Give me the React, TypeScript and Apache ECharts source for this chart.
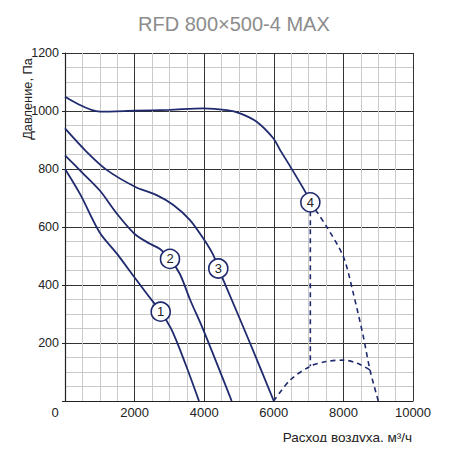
import React, { useEffect, useRef } from "react";
import * as echarts from "echarts";

const NAVY = "#1f2a6e";

const title = "RFD 800×500-4 MAX";
const xName = "Расход воздуха, м³/ч";
const yName = "Давление, Па";

const curve1: [number, number][] = [
  [0, 800], [431, 714], [1006, 579], [1485, 509], [2011, 424], [2400, 362], [2750, 308],
  [3066, 245], [3448, 132], [3851, 0],
];
const curve2: [number, number][] = [
  [0, 847], [500, 787], [1006, 725], [1485, 647], [2011, 575], [2443, 542], [2730, 524],
  [3017, 490], [3305, 437], [3592, 350], [3975, 245], [4790, 0],
];
const curve3: [number, number][] = [
  [0, 940], [600, 862], [1197, 797], [2011, 739], [2634, 710], [3113, 676], [3592, 624],
  [4004, 555], [4262, 503], [4405, 457], [4550, 417], [5316, 200], [6000, 0],
];
const curve4: [number, number][] = [
  [0, 1049], [1006, 998], [2011, 1001], [3000, 1004], [3975, 1009], [4646, 1003],
  [5029, 992], [5508, 963], [5986, 906], [6178, 866], [6466, 810], [6925, 717], [7050, 685],
];
const dashRight: [number, number][] = [
  [7050, 685], [7519, 601], [8000, 497], [8285, 371], [8573, 222], [8764, 107], [9003, 0],
];
const dashVertical: [number, number][] = [
  [7050, 685], [7050, 120],
];
const dashBottom: [number, number][] = [
  [6000, 0], [6466, 72], [7050, 120], [7500, 136], [8000, 141], [8400, 130], [8764, 107],
];
const markers: [number, number, string][] = [
  [2750, 308, "1"], [3017, 490, "2"], [4405, 457, "3"], [7050, 685, "4"],
];

export default function App() {
  const ref = useRef<HTMLDivElement>(null);
  useEffect(() => {
    if (!ref.current) return;
    const chart = echarts.init(ref.current, undefined, { renderer: "svg" });
    const font = "'Liberation Sans', Arial, Helvetica, sans-serif";
    const solid = (data: [number, number][]) => ({
      type: "line",
      data,
      smooth: 0.3,
      showSymbol: false,
      symbol: "none",
      lineStyle: { color: NAVY, width: 1.8 },
      z: 3,
    });
    const dashed = (data: [number, number][], smooth = 0.3) => ({
      type: "line",
      data,
      smooth,
      showSymbol: false,
      symbol: "none",
      lineStyle: { color: NAVY, width: 1.6, type: [5, 4] },
      z: 3,
    });
    chart.setOption({
      animation: false,
      title: {
        text: title,
        left: 133,
        top: 9,
        textStyle: { fontFamily: font, fontSize: 20, fontWeight: "normal", color: "#8c8c8c" },
      },
      grid: { left: 65, right: 45, top: 53, bottom: 49, containLabel: false },
      xAxis: {
        type: "value",
        min: 0,
        max: 10000,
        interval: 2000,
        axisLine: { show: true, lineStyle: { color: "#222", width: 1.2 } },
        axisTick: { show: false },
        minorTick: { show: false, splitNumber: 4 },
        axisLabel: {
          fontFamily: font,
          fontSize: 13,
          color: "#222",
          margin: 5,
          formatter: (v: number) => (v === 0 ? "{z|0}" : String(v)),
          rich: { z: { fontFamily: font, fontSize: 13, color: "#222", padding: [0, 20, 0, 0] } },
        },
        splitLine: { show: true, lineStyle: { color: "#333", width: 1 } },
        minorSplitLine: { show: true, lineStyle: { color: "#cacaca", width: 1 } },
      },
      yAxis: {
        type: "value",
        min: 0,
        max: 1200,
        interval: 200,
        axisLine: { show: true, lineStyle: { color: "#222", width: 1.2 } },
        axisTick: { show: true, inside: false, length: 3, lineStyle: { color: "#222" } },
        minorTick: { show: false, splitNumber: 4 },
        axisLabel: {
          fontFamily: font,
          fontSize: 12.5,
          color: "#222",
          margin: 6,
          formatter: (v: number) => (v === 0 ? "" : String(v)),
        },
        splitLine: { show: true, lineStyle: { color: "#333", width: 1 } },
        minorSplitLine: { show: true, lineStyle: { color: "#cacaca", width: 1 } },
      },
      graphic: [
        {
          type: "text",
          x: 412,
          y: 437,
          style: {
            text: xName,
            fontFamily: font,
            fontSize: 13.5,
            fill: "#222",
            align: "right",
            verticalAlign: "middle",
          },
        },
        {
          type: "text",
          x: 27,
          y: 99,
          rotation: Math.PI / 2,
          style: {
            text: yName,
            fontFamily: font,
            fontSize: 12.8,
            fill: "#222",
            align: "center",
            verticalAlign: "middle",
          },
        },
      ],
      series: [
        solid(curve1),
        solid(curve2),
        solid(curve3),
        solid(curve4),
        dashed(dashRight),
        dashed(dashVertical, 0),
        dashed(dashBottom),
        {
          type: "scatter",
          data: markers.map((m) => ({ value: [m[0], m[1]], name: m[2] })),
          symbol: "circle",
          symbolSize: 19,
          itemStyle: { color: "#fff", borderColor: NAVY, borderWidth: 1.6, opacity: 1 },
          label: {
            show: true,
            position: "inside",
            formatter: (p: any) => p.name,
            fontFamily: font,
            fontSize: 13,
            color: "#222",
          },
          z: 5,
        },
      ],
    });
    return () => chart.dispose();
  }, []);
  return <div ref={ref} style={{ width: 458, height: 450, margin: -8 }} />;
}
